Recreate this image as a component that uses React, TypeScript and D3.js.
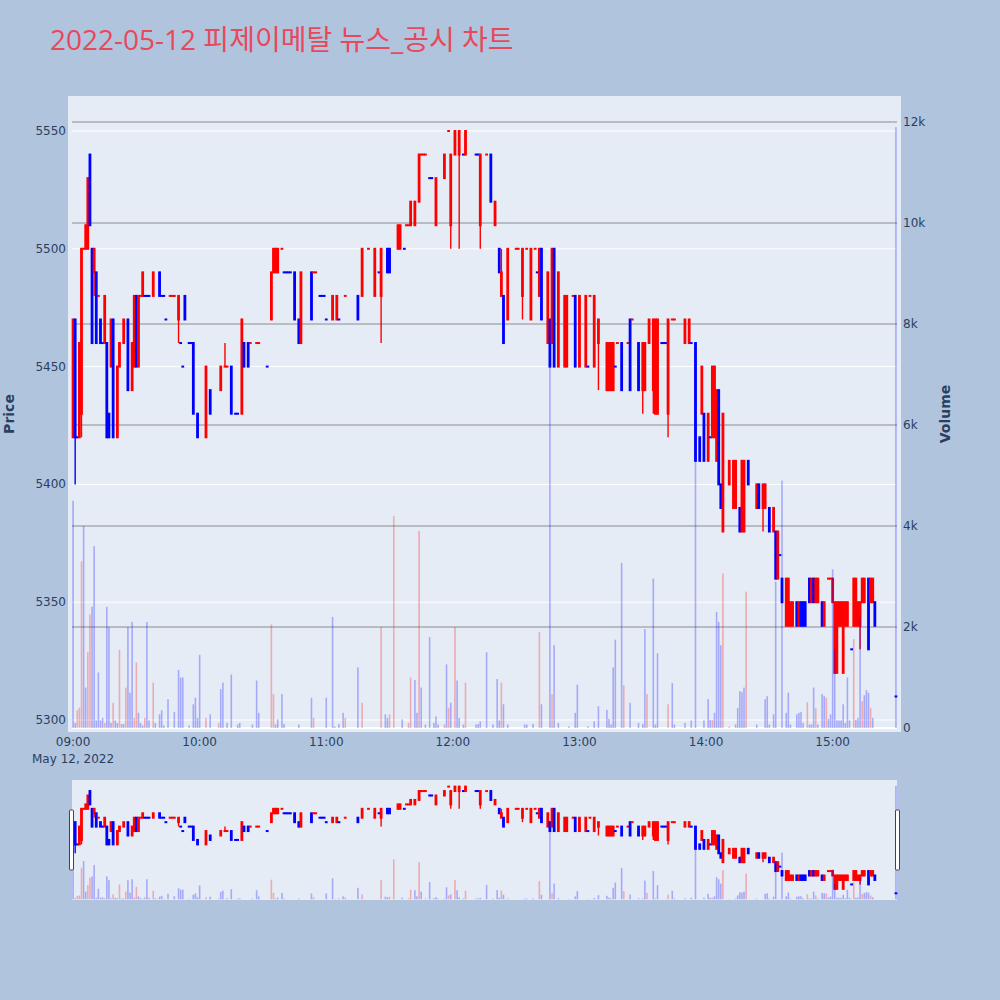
import React from "react";
import * as d3 from "d3";

const titleText = "2022-05-12 피제이메탈 뉴스_공시 차트";
const dateLabel = "May 12, 2022";
const priceTicks = [5300, 5350, 5400, 5450, 5500, 5550];
const volumeTicks = [0, 2000, 4000, 6000, 8000, 10000, 12000];
const hourTicks = ["09:00", "10:00", "11:00", "12:00", "13:00", "14:00", "15:00"];

const candleTime = [
  "09:00","09:01","09:02","09:03","09:04","09:05","09:06","09:07","09:08","09:09",
  "09:10","09:11","09:12","09:13","09:14","09:15","09:16","09:17","09:18","09:19",
  "09:21","09:22","09:24","09:26","09:28","09:29","09:30","09:31","09:32","09:33",
  "09:34","09:35","09:36","09:38","09:41","09:42","09:43","09:44","09:46","09:47",
  "09:48","09:50","09:51","09:52","09:53","09:55","09:56","09:57","09:59","10:03",
  "10:05","10:10","10:12","10:13","10:15","10:17","10:18","10:20","10:21","10:23",
  "10:24","10:27","10:28","10:32","10:34","10:35","10:36","10:37","10:39","10:40",
  "10:41","10:42","10:43","10:45","10:47","10:48","10:53","10:54","10:55","10:57",
  "10:58","10:59","11:00","11:03","11:05","11:06","11:09","11:15","11:17","11:20",
  "11:23","11:25","11:26","11:29","11:30","11:34","11:35","11:37","11:38","11:39",
  "11:40","11:42","11:44","11:45","11:46","11:47","11:49","11:50","11:52","11:56",
  "11:58","11:59","12:01","12:03","12:05","12:06","12:11","12:12","12:13","12:16",
  "12:18","12:20","12:22","12:23","12:24","12:26","12:30","12:31","12:33","12:35",
  "12:37","12:39","12:40","12:41","12:42","12:45","12:46","12:47","12:48","12:50",
  "12:53","12:54","12:57","12:58","13:00","13:03","13:04","13:05","13:07","13:09",
  "13:13","13:14","13:15","13:16","13:17","13:18","13:20","13:23","13:24","13:25",
  "13:28","13:30","13:31","13:33","13:35","13:36","13:37","13:39","13:40","13:41",
  "13:42","13:44","13:45","13:50","13:52","13:53","13:55","13:57","13:58","13:59",
  "14:01","14:02","14:03","14:04","14:05","14:06","14:07","14:08","14:11","14:13",
  "14:14","14:16","14:17","14:18","14:20","14:24","14:25","14:27","14:28","14:30",
  "14:32","14:33","14:34","14:35","14:36","14:38","14:39","14:40","14:41","14:43",
  "14:44","14:45","14:46","14:47","14:49","14:50","14:51","14:52","14:53","14:55",
  "14:56","14:58","14:59","15:00","15:01","15:02","15:03","15:04","15:05","15:06",
  "15:07","15:09","15:10","15:11","15:12","15:13","15:14","15:15","15:17","15:18",
  "15:19","15:20","15:30",
];

const candleOpen = [
  5420,5470,5420,5420,5430,5500,5500,5500,5540,5500,
  5490,5490,5480,5470,5460,5460,5460,5430,5450,5470,
  5420,5450,5460,5470,5440,5450,5480,5450,5480,5480,
  5480,5480,5480,5480,5490,5480,5480,5470,5480,5480,
  5480,5470,5460,5450,5480,5460,5460,5460,5430,5420,
  5440,5440,5450,5450,5450,5430,5430,5430,5460,5460,
  5460,5460,5460,5450,5470,5490,5490,5490,5500,5490,
  5490,5490,5490,5490,5470,5460,5490,5490,5490,5480,
  5480,5480,5470,5470,5470,5470,5480,5480,5480,5500,
  5480,5490,5480,5500,5500,5500,5500,5500,5510,5510,
  5510,5510,5520,5540,5540,5540,5530,5530,5510,5530,
  5550,5510,5540,5540,5540,5540,5540,5540,5510,5540,
  5540,5510,5500,5480,5480,5470,5500,5500,5480,5500,
  5470,5500,5490,5480,5500,5460,5470,5460,5500,5450,
  5450,5450,5480,5480,5450,5450,5450,5480,5450,5460,
  5440,5440,5440,5440,5450,5460,5460,5460,5470,5470,
  5460,5440,5440,5460,5440,5430,5430,5460,5460,5460,
  5430,5470,5470,5460,5460,5460,5460,5420,5430,5430,
  5410,5420,5420,5420,5410,5440,5400,5380,5400,5390,
  5390,5390,5380,5380,5410,5390,5400,5390,5390,5390,
  5380,5380,5360,5370,5360,5340,5340,5340,5340,5350,
  5340,5350,5350,5350,5360,5350,5360,5350,5350,5350,
  5340,5360,5360,5350,5320,5320,5340,5340,5320,5340,
  5340,5330,5340,5340,5340,5340,5350,5350,5360,5350,
  5350,5350,5310,
];

const candleHigh = [
  5470,5470,5420,5460,5500,5500,5510,5530,5540,5500,
  5500,5490,5480,5470,5460,5480,5460,5430,5470,5470,
  5450,5460,5470,5470,5460,5480,5480,5480,5480,5490,
  5480,5480,5480,5490,5490,5480,5480,5470,5480,5480,
  5480,5480,5460,5450,5480,5460,5460,5460,5430,5450,
  5440,5450,5460,5450,5450,5430,5430,5470,5460,5460,
  5460,5460,5460,5450,5490,5500,5500,5500,5500,5490,
  5490,5490,5490,5490,5470,5490,5490,5490,5490,5480,
  5480,5480,5470,5480,5480,5470,5480,5480,5500,5500,
  5500,5490,5500,5500,5500,5510,5510,5500,5510,5510,
  5520,5520,5540,5540,5540,5540,5530,5530,5530,5540,
  5550,5540,5550,5550,5540,5550,5540,5540,5540,5540,
  5540,5520,5500,5500,5480,5500,5500,5500,5500,5500,
  5500,5500,5490,5500,5500,5490,5470,5500,5500,5490,
  5480,5480,5480,5480,5480,5480,5450,5480,5480,5470,
  5460,5460,5460,5460,5450,5460,5460,5460,5470,5470,
  5460,5460,5460,5470,5470,5470,5470,5460,5460,5460,
  5470,5470,5470,5470,5470,5460,5460,5420,5450,5430,
  5430,5420,5450,5450,5440,5440,5400,5430,5410,5410,
  5410,5390,5410,5410,5410,5400,5400,5400,5400,5390,
  5390,5380,5380,5370,5360,5360,5360,5350,5350,5350,
  5350,5350,5350,5350,5360,5360,5360,5360,5360,5350,
  5350,5360,5360,5360,5350,5350,5350,5350,5350,5350,
  5350,5330,5360,5360,5350,5350,5360,5360,5360,5360,
  5360,5350,5310,
];

const candleLow = [
  5420,5400,5420,5420,5420,5500,5500,5500,5510,5460,
  5480,5460,5480,5460,5460,5460,5420,5420,5450,5420,
  5420,5450,5460,5440,5440,5450,5450,5450,5480,5480,
  5480,5480,5480,5480,5480,5480,5480,5470,5480,5480,
  5480,5460,5460,5450,5470,5460,5460,5430,5420,5420,
  5430,5440,5450,5450,5430,5430,5430,5430,5450,5450,
  5460,5460,5460,5450,5470,5490,5490,5490,5500,5490,
  5490,5490,5490,5470,5460,5460,5470,5490,5490,5480,
  5480,5480,5470,5470,5470,5470,5480,5470,5480,5500,
  5480,5490,5460,5490,5490,5500,5500,5500,5510,5510,
  5510,5510,5520,5540,5540,5540,5530,5530,5510,5530,
  5550,5500,5540,5500,5540,5540,5540,5540,5500,5540,
  5520,5510,5490,5480,5460,5470,5500,5500,5470,5500,
  5470,5500,5490,5480,5470,5460,5450,5460,5450,5450,
  5450,5450,5480,5450,5450,5450,5450,5480,5450,5440,
  5440,5440,5440,5440,5450,5460,5440,5460,5440,5470,
  5440,5430,5440,5460,5430,5430,5430,5460,5460,5460,
  5420,5470,5470,5460,5460,5460,5410,5410,5430,5410,
  5410,5420,5420,5420,5410,5400,5390,5380,5400,5390,
  5390,5380,5380,5380,5400,5390,5390,5380,5390,5380,
  5380,5360,5360,5370,5350,5340,5340,5340,5340,5340,
  5340,5340,5340,5340,5350,5350,5350,5350,5350,5340,
  5340,5360,5360,5350,5320,5320,5340,5340,5320,5340,
  5340,5330,5340,5340,5340,5330,5350,5350,5330,5350,
  5350,5340,5310,
];

const candleClose = [
  5470,5420,5420,5460,5500,5500,5510,5530,5510,5460,
  5500,5460,5480,5460,5460,5480,5420,5420,5470,5420,
  5450,5460,5470,5440,5460,5480,5450,5480,5480,5490,
  5480,5480,5480,5490,5480,5480,5480,5470,5480,5480,
  5480,5480,5460,5450,5470,5460,5460,5430,5420,5450,
  5430,5450,5450,5450,5430,5430,5430,5470,5450,5450,
  5460,5460,5460,5450,5490,5500,5500,5500,5500,5490,
  5490,5490,5490,5470,5460,5490,5470,5490,5490,5480,
  5480,5480,5470,5480,5480,5470,5480,5470,5500,5500,
  5500,5490,5500,5490,5490,5510,5510,5500,5510,5510,
  5520,5520,5540,5540,5540,5540,5530,5530,5530,5540,
  5550,5540,5550,5550,5540,5550,5540,5540,5540,5540,
  5520,5520,5490,5490,5460,5500,5500,5500,5500,5500,
  5500,5500,5490,5500,5470,5490,5450,5500,5450,5490,
  5480,5480,5480,5450,5480,5480,5450,5480,5480,5470,
  5460,5460,5460,5460,5450,5460,5440,5460,5440,5470,
  5440,5460,5460,5470,5470,5470,5470,5460,5460,5460,
  5470,5470,5470,5470,5470,5460,5410,5410,5450,5410,
  5430,5420,5450,5450,5440,5400,5390,5430,5410,5410,
  5410,5380,5410,5410,5400,5400,5390,5400,5400,5380,
  5390,5360,5380,5370,5350,5360,5360,5350,5350,5340,
  5350,5340,5340,5340,5350,5360,5350,5360,5360,5340,
  5350,5360,5360,5360,5350,5350,5350,5350,5350,5350,
  5350,5330,5360,5360,5350,5350,5360,5360,5330,5360,
  5360,5340,5310,
];

const volTime = [
  "09:00","09:01","09:02","09:03","09:04","09:05","09:06","09:07","09:08","09:09",
  "09:10","09:11","09:12","09:13","09:14","09:15","09:16","09:17","09:18","09:19",
  "09:20","09:21","09:22","09:23","09:24","09:25","09:26","09:27","09:28","09:29",
  "09:30","09:31","09:32","09:33","09:34","09:35","09:36","09:38","09:39","09:41",
  "09:42","09:43","09:45","09:48","09:50","09:51","09:52","09:55","09:57","09:58",
  "09:59","10:00","10:03","10:05","10:09","10:10","10:11","10:13","10:15","10:18",
  "10:19","10:25","10:27","10:28","10:34","10:35","10:36","10:37","10:39","10:40",
  "10:47","10:53","10:54","11:00","11:03","11:04","11:06","11:08","11:09","11:15",
  "11:17","11:26","11:28","11:29","11:30","11:32","11:36","11:39","11:40","11:42",
  "11:43","11:44","11:45","11:47","11:49","11:51","11:52","11:53","11:56","11:57",
  "11:58","11:59","12:01","12:02","12:03","12:05","12:06","12:11","12:12","12:13",
  "12:16","12:19","12:21","12:22","12:23","12:24","12:26","12:34","12:35","12:38",
  "12:41","12:42","12:46","12:47","12:48","12:50","12:55","12:58","12:59","13:04",
  "13:07","13:09","13:13","13:14","13:15","13:16","13:17","13:20","13:21","13:24",
  "13:28","13:30","13:31","13:32","13:35","13:36","13:37","13:42","13:44","13:45",
  "13:50","13:53","13:55","13:59","14:01","14:02","14:03","14:04","14:05","14:06",
  "14:07","14:08","14:11","14:14","14:15","14:16","14:17","14:18","14:19","14:24",
  "14:28","14:29","14:30","14:32","14:33","14:36","14:38","14:39","14:40","14:43",
  "14:44","14:45","14:46","14:48","14:49","14:50","14:51","14:52","14:53","14:55",
  "14:56","14:57","14:58","14:59","15:00","15:01","15:02","15:03","15:04","15:05",
  "15:06","15:07","15:08","15:10","15:11","15:12","15:13","15:14","15:15","15:16",
  "15:17","15:18","15:19","15:30",
];

const volAmount = [
  4500,100,350,400,3300,4000,800,1500,2250,2400,
  3600,150,1100,150,200,100,2400,2000,100,500,
  150,100,1550,80,80,800,2000,700,2100,200,
  1300,300,100,50,200,2100,150,900,100,270,
  350,50,570,320,1150,1000,1000,50,470,600,
  200,1450,200,270,100,770,900,100,1060,70,
  100,70,940,300,2050,670,70,170,670,80,
  70,600,200,600,2200,30,80,300,200,1200,
  500,2000,270,200,270,4200,170,100,1000,950,
  300,3900,800,70,1800,100,230,70,70,1260,
  400,500,2000,940,200,70,900,70,80,130,
  1500,70,970,150,900,470,70,70,70,80,
  1900,470,8100,670,1640,100,30,300,860,30,
  130,430,360,180,70,1200,1750,3270,850,500,
  100,80,1960,670,2960,70,1480,470,890,70,
  100,150,7600,150,570,160,160,300,2300,2100,
  1640,3060,30,70,400,730,710,800,2700,70,
  570,630,70,270,2900,4900,300,700,70,270,
  300,320,100,510,70,70,800,390,70,670,
  630,600,180,270,3140,1560,150,150,150,470,
  100,1000,150,1760,160,200,2200,530,650,750,
  700,400,200,11900,
];

const volSide = [
  "d","d","u","u","u","d","d","u","u","d",
  "d","d","d","d","d","u","d","d","d","u",
  "d","d","u","d","d","u","d","d","d","u",
  "u","d","d","d","u","d","d","u","d","d",
  "d","d","d","d","d","d","d","d","d","d",
  "d","d","u","d","u","d","d","d","d","d",
  "d","d","d","d","u","u","d","d","d","d",
  "d","d","u","d","d","d","d","d","u","d",
  "u","u","d","d","u","u","d","u","u","d",
  "d","u","d","d","d","d","d","d","u","d",
  "u","d","u","d","d","d","u","d","d","d",
  "d","d","d","d","u","d","d","d","d","d",
  "u","d","d","u","d","d","d","d","d","d",
  "d","d","d","d","d","d","d","d","u","d",
  "d","d","d","u","d","d","d","u","d","d",
  "d","d","d","d","d","d","u","d","d","d",
  "d","u","u","d","d","d","d","d","u","d",
  "d","d","d","d","d","d","d","d","d","d",
  "d","d","d","u","d","d","d","u","d","d",
  "d","u","d","d","d","d","d","d","d","d",
  "d","d","d","u","d","d","d","u","d","d",
  "d","u","d","d",
];

const UP = "#FF0000";
const DOWN = "#0000FF";
const TITLE_FONT = "'Open Sans', 'Noto Sans CJK KR', sans-serif";
const AXIS_FONT = "'DejaVu Sans', Verdana, sans-serif";
const AXIS = "#2a3f5f";

function toDate(t: string) {
  const [h, m] = t.split(":").map(Number);
  return new Date(2022, 4, 12, h, m);
}

export default function App() {
  const x = d3
    .scaleTime()
    .domain([new Date(2022, 4, 12, 8, 59, 30), new Date(2022, 4, 12, 15, 30, 30)])
    .range([72, 897]);
  const yP = d3.scaleLinear().domain([5300, 5550]).range([720, 131]);
  const yV = d3.scaleLinear().domain([0, 12000]).range([728, 122]);
  const k = 120 / 636;
  const yPm = d3.scaleLinear().domain([5300, 5550]).range([780 + (720 - 96) * k, 780 + (131 - 96) * k]);
  const yVm = d3.scaleLinear().domain([0, 12000]).range([780 + (728 - 96) * k, 780 + (122 - 96) * k]);

  const dirs: boolean[] = [];
  let prevC = NaN;
  let last = true;
  candleOpen.forEach((o, i) => {
    const c = candleClose[i];
    let up: boolean;
    if (c > o) up = true;
    else if (c < o) up = false;
    else if (c > prevC) up = true;
    else if (c < prevC) up = false;
    else up = last;
    dirs.push(up);
    last = up;
    prevC = c;
  });

  const fmtVol = d3.format("~s");
  const fmtHour = d3.timeFormat("%H:%M");

  const renderCandles = (ys: d3.ScaleLinear<number, number>, bodyW: number, wickW: number, minH: number) =>
    candleTime.map((t, i) => {
      const cx = x(toDate(t));
      const col = dirs[i] ? UP : DOWN;
      const yo = ys(candleOpen[i]);
      const yc = ys(candleClose[i]);
      const top = Math.min(yo, yc);
      const h = Math.abs(yo - yc);
      return (
        <g key={i}>
          <line x1={cx} x2={cx} y1={ys(candleHigh[i])} y2={ys(candleLow[i])} stroke={col} strokeWidth={wickW} />
          <rect x={cx - bodyW / 2} y={top - minH / 2} width={bodyW} height={h + minH} fill={col} />
        </g>
      );
    });

  const renderVolumes = (ys: d3.ScaleLinear<number, number>, w: number) =>
    volTime.map((t, i) => {
      const cx = x(toDate(t));
      const y0 = ys(0);
      const y1 = ys(volAmount[i]);
      return (
        <rect
          key={i}
          x={cx - w / 2}
          y={y1}
          width={w}
          height={y0 - y1}
          fill={volSide[i] === "u" ? UP : DOWN}
          fillOpacity={0.28}
        />
      );
    });

  return (
    <svg width={1000} height={1000} style={{ display: "block", position: "absolute", left: 0, top: 0 }} fontFamily={AXIS_FONT}>
      <rect x={0} y={0} width={1000} height={1000} fill="#B0C4DE" />
      <text x={50} y={50} fontSize={28} fill="#E8485C" fontFamily={TITLE_FONT}>{titleText}</text>

      {/* main plot */}
      <rect x={68} y={96} width={833} height={636} fill="#E5ECF6" />
      {priceTicks.map((p) => (
        <line key={"pg" + p} x1={72} x2={897} y1={yP(p)} y2={yP(p)} stroke="#FFFFFF" strokeWidth={1} />
      ))}
      {volumeTicks.filter((v) => v > 0).map((v) => (
        <line key={"vg" + v} x1={72} x2={897} y1={yV(v)} y2={yV(v)} stroke="#8c8c8c" strokeWidth={1} />
      ))}
      <line x1={72} x2={897} y1={yV(0)} y2={yV(0)} stroke="#FFFFFF" strokeWidth={2} />

      <g>{renderCandles(yP, 2.8, 1.4, 2)}</g>
      <g>{renderVolumes(yV, 1.6)}</g>

      {priceTicks.map((p) => (
        <text key={"pt" + p} x={66} y={yP(p) + 4} fontSize={12} fill={AXIS} textAnchor="end">{p}</text>
      ))}
      {volumeTicks.map((v) => (
        <text key={"vt" + v} x={903} y={yV(v) + 4} fontSize={12} fill={AXIS} textAnchor="start">{fmtVol(v)}</text>
      ))}
      {hourTicks.map((h) => (
        <text key={"ht" + h} x={x(toDate(h))} y={746} fontSize={12} fill={AXIS} textAnchor="middle">{fmtHour(toDate(h))}</text>
      ))}
      <text x={x(toDate("09:00"))} y={763} fontSize={12} fill={AXIS} textAnchor="middle">{dateLabel}</text>

      <text transform="translate(14,414) rotate(-90)" fontSize={14} fontWeight="bold" fill={AXIS} textAnchor="middle">Price</text>
      <text transform="translate(950,414) rotate(-90)" fontSize={14} fontWeight="bold" fill={AXIS} textAnchor="middle">Volume</text>

      {/* range slider */}
      <rect x={72} y={780} width={825} height={120} fill="#E5ECF6" />
      <g>{renderCandles(yPm, 2.8, 1.4, 2)}</g>
      <g>{renderVolumes(yVm, 1.6)}</g>
      <rect x={69.5} y={810} width={4} height={60} fill="#FFFFFF" stroke="#444444" strokeWidth={1} rx={1} />
      <rect x={895.5} y={810} width={4} height={60} fill="#FFFFFF" stroke="#444444" strokeWidth={1} rx={1} />
    </svg>
  );
}
